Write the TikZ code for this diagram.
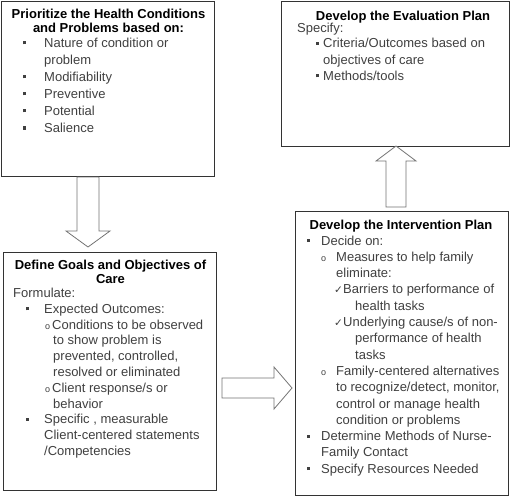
\documentclass[tikz,border=0pt]{standalone}
\usepackage{fontspec}
\setmainfont{Liberation Sans}
\newfontfamily\symf{DejaVu Sans}
\newcommand\bodyf{\fontsize{13}{16}\selectfont}
\newcommand\sqb{\rule[3pt]{3pt}{3pt}}
\newcommand\ob{{\fontsize{9}{9}\selectfont o}}
\newcommand\ck{{\symf\fontsize{10.5}{10.5}\selectfont ✓}}
\newcounter{ln}
\newcommand\tline[4][txt]{\stepcounter{ln}\node[#1] (ln\arabic{ln}) at (#2,#3) {#4};}
\tikzset{
  box/.style={draw=black!80, line width=0.9pt, fill=white, inner sep=0pt, anchor=north west},
  txt/.style={anchor=base west, inner sep=0pt, font=\bodyf, text=black!75},
  hd/.style={anchor=base, inner sep=0pt, font=\bodyf\bfseries, text=black},
  blockarrow/.style={draw=black!55, line width=0.8pt, fill=white, line join=miter}
}
\begin{document}
\begin{tikzpicture}[x=1pt,y=-1pt]
\useasboundingbox (0,0) rectangle (512,503);
% boxes
\node[box, minimum width=213pt, minimum height=175pt] (b1) at (1,1) {};
\node[box, minimum width=213pt, minimum height=238pt] (b2) at (3,252) {};
\node[box, minimum width=228pt, minimum height=145pt] (b3) at (281,1) {};
\node[box, minimum width=213pt, minimum height=284pt] (b4) at (295,211) {};
% block arrows
\draw[blockarrow] (77,177) -- (77,231) -- (66,231) -- (88,247) -- (110,231) -- (99,231) -- (99,177) -- cycle;
\draw[blockarrow] (222,378) -- (274,378) -- (274,367) -- (292,388) -- (274,409) -- (274,398) -- (222,398) -- cycle;
\draw[blockarrow] (386,207) -- (386,161) -- (376,161) -- (396,146) -- (416,161) -- (406,161) -- (406,207) -- cycle;
% box 1
\tline[hd]{108.5}{18.5}{Prioritize the Health Conditions}
\tline[hd]{108.5}{32.5}{and Problems based on:}
\tline{22.5}{47.5}{\makebox[21.5pt][l]{\sqb}Nature of condition or}
\tline{44}{64.5}{problem}
\tline{22.5}{81.5}{\makebox[21.5pt][l]{\sqb}Modifiability}
\tline{22.5}{98.5}{\makebox[21.5pt][l]{\sqb}Preventive}
\tline{22.5}{115.5}{\makebox[21.5pt][l]{\sqb}Potential}
\tline{22.5}{132.5}{\makebox[21.5pt][l]{\sqb}Salience}
% box 3
\tline[hd]{403}{20.5}{Develop the Evaluation Plan}
\tline{297}{32.5}{Specify:}
\tline{316}{48}{\makebox[7pt][l]{\sqb}Criteria/Outcomes based on}
\tline{323}{64.5}{objectives of care}
\tline{316}{80.5}{\makebox[7pt][l]{\sqb}Methods/tools}
% box 2
\tline[hd]{110.5}{269.5}{Define Goals and Objectives of}
\tline[hd]{110.5}{283}{Care}
\tline{13}{297.5}{Formulate:}
\tline{25.5}{313.3}{\makebox[18.5pt][l]{\sqb}Expected Outcomes:}
\tline{45}{329.1}{\makebox[7pt][l]{\ob}Conditions to be observed}
\tline{53}{344.9}{to show problem is}
\tline{53}{360.7}{prevented, controlled,}
\tline{53}{376.5}{resolved or eliminated}
\tline{45}{392.3}{\makebox[7pt][l]{\ob}Client response/s or}
\tline{53}{408.1}{behavior}
\tline{25.5}{423.9}{\makebox[18.5pt][l]{\sqb}Specific , measurable}
\tline{44}{439.7}{Client-centered statements}
\tline{44}{455.5}{/Competencies}
% box 4
\tline[hd]{401}{229.5}{Develop the Intervention Plan}
\tline{306.5}{245}{\makebox[14.5pt][l]{\sqb}Decide on:}
\tline{321}{261.3}{\makebox[15pt][l]{\ob}Measures to help family}
\tline{336}{277.6}{eliminate:}
\tline{334}{293.9}{\makebox[9pt][l]{\ck}Barriers to performance of}
\tline{355}{310.2}{health tasks}
\tline{334}{326.5}{\makebox[9pt][l]{\ck}Underlying cause/s of non-}
\tline{355}{342.8}{performance of health}
\tline{355}{359.1}{tasks}
\tline{321}{375.4}{\makebox[15pt][l]{\ob}Family-centered alternatives}
\tline{336}{391.7}{to recognize/detect, monitor,}
\tline{336}{408}{control or manage health}
\tline{336}{424.3}{condition or problems}
\tline{306.5}{440.6}{\makebox[14.5pt][l]{\sqb}Determine Methods of Nurse-}
\tline{321}{456.9}{Family Contact}
\tline{306.5}{473.2}{\makebox[14.5pt][l]{\sqb}Specify Resources Needed}
\end{tikzpicture}
\end{document}
